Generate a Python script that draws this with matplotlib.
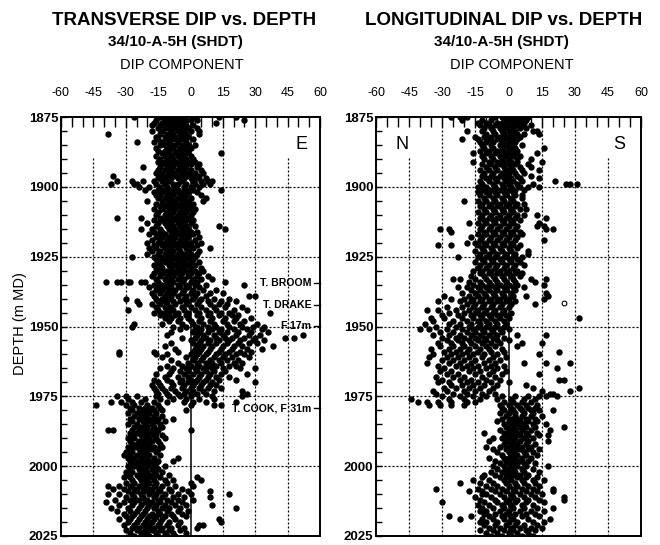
import matplotlib
matplotlib.use("Agg")
import matplotlib.pyplot as plt

plt.rcParams['font.family'] = ['Liberation Sans', 'DejaVu Sans']
plt.rcParams['axes.unicode_minus'] = False

# ---------------- data: transverse dip component (depth m MD -> dips) -------------
trans_upper = {
    1875: [-26, -14, -11, -9, -7, -5, -3, 1, 13, 21],
    1876: [-16, -12, -10, -8, -6, -4, -2, 0, 3, 25],
    1877: [-17, -13, -9, -7, -5, -3, 12],
    1878: [-18, -14, -11, -8, -6, -2, 1],
    1879: [-15, -12, -10, -7, -4, -1, 3],
    1880: [-18, -13, -9, -6, -3, 0, 4],
    1881: [-38, -14, -11, -8, -5, -2, 4],
    1882: [-16, -12, -9, -7, -4, -1],
    1883: [-15, -11, -8, -5, -3, 1],
    1884: [-25, -17, -13, -10, -6, -2],
    1885: [-14, -12, -9, -7, -4, -1, 2],
    1886: [-16, -11, -8, -5, -3, 0],
    1887: [-15, -12, -10, -6, -4, -1],
    1888: [-13, -10, -7, -5, -2, 14],
    1889: [-16, -12, -9, -6, -3, 0],
    1890: [-14, -11, -8, -5, -2, 1],
    1891: [-15, -12, -10, -7, -4, -1, 2],
    1892: [-13, -9, -6, -3, 0, 4],
    1893: [-22, -14, -11, -8, -5, -2, 3],
    1894: [-15, -12, -9, -6, -3, 0, 5],
    1895: [-16, -13, -10, -7, -4, -1, 2, 6],
    1896: [-36, -14, -11, -8, -5, -2, 1, 4],
    1897: [-15, -12, -9, -6, -3, 0, 3, 7],
    1898: [-34, -27, -22, -17, -13, -10, -4, 1, 5, 8, 10],
    1899: [-37, -26, -25, -16, -12, -8, -6, -2, 2, 6, 9],
    1900: [-24, -19, -14, -11, -7, -3, 0, 4],
    1901: [-21, -15, -12, -9, -6, -2, 1, 14],
    1902: [-17, -13, -10, -7, -4, -1, 3],
    1903: [-16, -14, -11, -8, -5, -2, 5],
    1904: [-15, -12, -9, -6, -3, 0, 7],
    1905: [-20, -13, -10, -7, -4, -1, 6],
    1906: [-16, -11, -8, -5, -2, 1],
    1907: [-14, -12, -9, -6, -3, 0],
    1908: [-17, -13, -10, -7, -4, -1, 2],
    1909: [-15, -11, -8, -5, -2, 1],
    1910: [-16, -12, -9, -6, -3, 0],
    1911: [-34, -23, -14, -10, -7, -4, -1],
    1912: [-17, -13, -11, -8, -5, -2, 1],
    1913: [-20, -15, -12, -9, -6, -3, 0],
    1914: [-16, -11, -8, -5, -2, 2, 13],
    1915: [-23, -18, -14, -10, -7, -4, -1, 16],
    1916: [-17, -13, -9, -6, -3, 0, 3],
    1917: [-19, -15, -12, -8, -5, -2, 1],
    1918: [-16, -13, -10, -7, -4, -1, 4],
    1919: [-18, -14, -11, -8, -5, -2, 2],
    1920: [-20, -15, -12, -9, -6, -3, 0, 5],
    1921: [-17, -13, -10, -7, -4, -1, 3],
    1922: [-19, -16, -12, -9, -6, -2, 1, 9],
    1923: [-18, -14, -11, -8, -5, -1, 4],
    1924: [-20, -15, -12, -9, -6, -3, 0, 3],
}
trans_middle = {
    1925: [-27, -17, -14, -10, -7, -4, -1, 2],
    1926: [-16, -13, -11, -8, -5, -2, 1],
    1927: [-15, -12, -9, -6, -3, 0, 4],
    1928: [-17, -14, -10, -7, -4, -1, 2],
    1929: [-16, -13, -9, -6, -3, 0, 5],
    1930: [-15, -11, -8, -5, -2, 2, 6],
    1931: [-17, -13, -10, -7, -4, 0, 4],
    1932: [-18, -14, -11, -8, -5, -1, 3, 8],
    1933: [-16, -12, -9, -6, -3, 1, 5, 10],
    1934: [-39, -34, -32, -29, -28, -23, -21, -15, -11, -8, -4, 0, 3, 16],
    1935: [-17, -13, -10, -6, -2, 2, 7, 25],
    1936: [-19, -15, -12, -9, -5, -1, 4],
    1937: [-16, -13, -10, -7, -3, 1, 6, 12],
    1938: [-18, -14, -11, -8, -4, 0, 3, 9, 15],
    1939: [-17, -12, -9, -6, -2, 2, 7, 27, 30],
    1940: [-30, -16, -13, -10, -3, 1, 5, 11, 18],
    1941: [-25, -15, -12, -8, -5, -1, 4, 8, 14, 21],
    1942: [-24, -18, -14, -11, -7, -2, 3, 9, 13, 17],
    1943: [-16, -12, -9, -4, 0, 5, 11, 16, 24],
    1944: [-29, -15, -11, -8, -3, 2, 7, 12, 20, 26],
    1945: [-17, -13, -10, -6, -1, 4, 9, 14, 18, 37],
    1946: [-14, -11, -7, -2, 3, 8, 13, 19, 22],
    1947: [-12, -9, -5, -1, 5, 10, 16, 21, 28],
    1948: [-10, -6, 0, 4, 9, 15, 20, 25],
    1949: [-26, -13, -4, 1, 6, 11, 17, 23, 31],
    1950: [-27, -8, -2, 3, 8, 12, 18, 24, 29, 34],
    1951: [-5, 2, 5, 10, 14, 20, 26, 33],
    1952: [-9, 1, 4, 8, 13, 17, 22, 28, 36],
    1953: [-11, 3, 6, 11, 15, 21, 27, 32, 52],
    1954: [-4, 2, 7, 12, 16, 19, 25, 30, 44, 48],
    1955: [0, 5, 9, 13, 18, 23, 29, 34],
    1956: [-9, 1, 4, 8, 12, 17, 22, 27, 31],
    1957: [-12, 3, 6, 10, 15, 20, 24, 38],
    1958: [-7, 2, 5, 9, 14, 19, 26, 33],
    1959: [-33, -17, -6, 1, 4, 8, 13, 18, 23, 28],
    1960: [-33, -16, -11, 0, 3, 7, 12, 16, 21, 25],
    1961: [-13, -2, 2, 6, 11, 15, 19, 27],
    1962: [-9, 1, 5, 9, 13, 17, 22],
    1963: [-6, -1, 3, 7, 10, 14, 20, 24],
    1964: [-11, -4, 0, 4, 8, 12, 18, 21],
    1965: [-14, -8, -2, 2, 6, 10, 15, 23, 30],
    1966: [-9, -5, -1, 3, 7, 11, 16],
    1967: [-16, -10, -3, 1, 5, 9, 14, 26],
    1968: [-12, -6, -1, 4, 8, 12, 18],
    1969: [-17, -11, -4, 0, 3, 7, 13, 21],
    1970: [-15, -9, -5, -1, 2, 6, 10, 30],
    1971: [-18, -14, -8, -3, 1, 5, 9, 12],
    1972: [-17, -13, -9, -4, 0, 4, 8, 14],
    1973: [-16, -12, -7, -2, 1, 6, 11, 24],
    1974: [-15, -11, -6, -3, 0, 3, 7, 26],
    1975: [-34, -30, -25, -16, -10, -5, 0, 10, 24],
    1976: [-29, -21, -14, -8, -2, 4, 11],
    1977: [-37, -32, -27, -23, -17, -11, -3, 1, 7, 21],
}
trans_lower = {
    1978: [-44, -30, -26, -20, -15, 0, 11, 14],
    1979: [-28, -24, -21, -18, -14],
    1980: [-27, -23, -20, -17, -13, -2],
    1981: [-29, -25, -22, -19, -16],
    1982: [-26, -23, -20, -17, -13],
    1983: [-28, -24, -21, -18, -15, -8],
    1984: [-27, -22, -19, -16, -12],
    1985: [-29, -25, -21, -18, -14],
    1986: [-26, -23, -20, -17, -13],
    1987: [-38, -36, -27, -24, -21, -18, -15, 0],
    1988: [-28, -25, -22, -19, -16],
    1989: [-27, -23, -20, -17, -13],
    1990: [-29, -26, -22, -19, -16, -12],
    1991: [-28, -24, -21, -18, -15],
    1992: [-27, -25, -22, -19, -14],
    1993: [-29, -26, -23, -20, -17, -13],
    1994: [-28, -24, -21, -18, -15],
    1995: [-30, -27, -23, -20, -16],
    1996: [-31, -28, -25, -22, -19, -14],
    1997: [-29, -26, -23, -20, -17, -6],
    1998: [-28, -24, -21, -18, -15, -8],
    1999: [-27, -25, -22, -19, -16],
    2000: [-29, -26, -23, -20, -17, -12],
    2001: [-28, -24, -21, -18, -15],
    2002: [-30, -27, -23, -20, -17, -13],
    2003: [-29, -25, -22, -19, -16, -10],
    2004: [-31, -28, -24, -21, -18, -14, 3],
    2005: [-27, -23, -20, -17, -12, -8, 5],
    2006: [-30, -26, -22, -19, -16, -11, 0],
    2007: [-38, -33, -28, -24, -21, -17, -13, -7, 1],
    2008: [-36, -31, -26, -22, -19, -15, -10, -4],
    2009: [-29, -25, -21, -18, -14, -9, -1, 9],
    2010: [-38, -33, -27, -23, -19, -16, -12, -6, 0, 18],
    2011: [-30, -26, -22, -17, -13, -8, -3, 9],
    2012: [-35, -28, -24, -20, -15, -11, -6, 1],
    2013: [-39, -31, -26, -21, -18, -14, -9, -4],
    2014: [-33, -27, -23, -19, -16, -12, -7, -2, 10],
    2015: [-37, -29, -24, -20, -17, -13, -10, -5, 21],
    2016: [-34, -28, -25, -21, -15, -11, -6, -1],
    2017: [-31, -26, -22, -18, -14, -9, -4],
    2018: [-30, -27, -23, -19, -16, -12, -8, -2],
    2019: [-33, -28, -24, -20, -17, -13, -7, 13],
    2020: [-29, -25, -21, -18, -14, -10, -5, 14],
    2021: [-31, -26, -22, -19, -15, -11, -6, 4, 6],
    2022: [-27, -24, -20, -17, -13, -9, -3, 3],
    2023: [-30, -25, -21, -18, -14, -10, -5],
    2024: [-28, -23, -20, -16, -12, -8, -2],
    2025: [-26, -22, -19, -15, -11, -7],
}

# ---------------- data: longitudinal dip component ----------------
long_upper = {
    1875: [-26, -22, -19, -6, -3, -1, 1, 3, 5, 7, 9],
    1876: [-21, -12, -8, -2, 0, 2, 4, 6, 8],
    1877: [-14, -10, -5, -3, 0, 3, 5, 7],
    1878: [-13, -9, -6, -2, 1, 4, 6, 10],
    1879: [-11, -8, -4, -1, 2, 5, 8],
    1880: [-19, -12, -7, -3, 0, 3, 11, 13],
    1881: [-10, -6, -2, 1, 4, 7, 14],
    1882: [-15, -11, -8, -4, -1, 2, 5],
    1883: [-21, -14, -9, -5, -2, 1, 4],
    1884: [-13, -10, -7, -3, 0, 3],
    1885: [-12, -8, -4, -1, 2, 6],
    1886: [-11, -7, -3, 0, 3, 16],
    1887: [-13, -9, -5, -2, 1, 4],
    1888: [-16, -10, -6, -3, 0, 3, 13],
    1889: [-12, -8, -4, -1, 2, 5],
    1890: [-11, -7, -3, 0, 4, 10],
    1891: [-16, -9, -5, -2, 1, 4, 15],
    1892: [-12, -8, -4, 0, 3, 9],
    1893: [-10, -6, -2, 1, 5, 10],
    1894: [-13, -9, -5, -1, 2, 6, 14],
    1895: [-11, -7, -3, 0, 3, 7],
    1896: [-12, -8, -4, -1, 4, 10],
    1897: [-10, -6, -2, 1, 5, 14],
    1898: [-13, -9, -5, -1, 2, 6, 21],
    1899: [-12, -7, -3, 0, 4, 11, 26, 28, 31],
    1900: [-14, -10, -6, -2, 1, 5, 9, 14],
    1901: [-12, -8, -4, 0, 3, 7],
    1902: [-14, -10, -6, -2, 2],
    1903: [-13, -9, -5, -1, 3, 6],
    1904: [-11, -7, -3, 1, 6],
    1905: [-20, -14, -10, -6, -2, 2],
    1906: [-12, -8, -4, 0, 4, 7],
    1907: [-13, -9, -5, -1, 3],
    1908: [-11, -7, -3, 1, 5, 8],
    1909: [-14, -10, -6, -2, 2],
    1910: [-12, -8, -4, 0, 4, 7, 13],
    1911: [-13, -9, -5, -1, 3, 17],
    1912: [-11, -7, -3, 1, 5],
    1913: [-18, -14, -10, -6, -2, 2, 14],
    1914: [-12, -8, -4, 0, 4, 13, 16],
    1915: [-31, -27, -13, -9, -5, -1, 3, 17, 20],
    1916: [-26, -11, -7, -3, 1, 5],
    1917: [-14, -10, -6, -2, 2, 6],
    1918: [-17, -12, -8, -4, 0, 4],
    1919: [-13, -9, -5, -1, 3, 16],
    1920: [-19, -15, -11, -7, -3, 1],
    1921: [-32, -26, -14, -10, -6, -2, 2, 5],
    1922: [-12, -8, -4, 0, 4],
    1923: [-15, -11, -7, -3, 1, 9],
    1924: [-13, -9, -5, -1, 3, 9],
}
long_middle = {
    1925: [-23, -14, -10, -6, -2, 2, 6],
    1926: [-12, -8, -4, 0, 4],
    1927: [-15, -11, -7, -3, 1, 5],
    1928: [-13, -9, -5, -1, 3, 7],
    1929: [-14, -10, -6, -2, 2],
    1930: [-16, -12, -8, -4, 0, 4],
    1931: [-13, -9, -5, -1, 3, 6],
    1932: [-17, -11, -7, -3, 1, 5],
    1933: [-25, -22, -15, -10, -6, -2, 2, 10, 17],
    1934: [-18, -13, -9, -5, -1, 3, 12],
    1935: [-16, -12, -8, -4, 0, 4, 16],
    1936: [-23, -19, -14, -10, -6, -2, 2, 7],
    1937: [-17, -13, -9, -5, -1, 3],
    1938: [-21, -15, -11, -7, -3, 1, 17],
    1939: [-29, -18, -14, -10, -6, -2, 2, 8, 18],
    1940: [-26, -20, -16, -12, -8, -4, 0, 16],
    1941: [-32, -22, -17, -13, -9, -5, -1, 3],
    1942: [-19, -15, -11, -7, -3, 1, 12],
    1943: [-28, -21, -16, -12, -8, -4, 0],
    1944: [-37, -32, -24, -18, -14, -10, -6, -2],
    1945: [-27, -20, -15, -11, -7, -3, 1],
    1946: [-30, -23, -17, -13, -9, -5, -1],
    1947: [-35, -29, -21, -16, -12, -8, -4, 0, 32],
    1948: [-34, -25, -19, -14, -10, -6, -2],
    1949: [-38, -27, -22, -17, -13, -9, -5, -1],
    1950: [-33, -24, -18, -14, -10, -6, -2],
    1951: [-40, -36, -28, -21, -16, -12, -8, -4, 0],
    1952: [-31, -25, -19, -15, -11, -7, -3],
    1953: [-34, -27, -22, -17, -13, -9, -5, 4, 17],
    1954: [-30, -24, -20, -15, -11, -7, -2],
    1955: [-28, -23, -18, -14, -10, -5, 0],
    1956: [-32, -26, -21, -17, -12, -8, -4, 6, 15],
    1957: [-31, -25, -20, -15, -10, -6, 4],
    1958: [-35, -27, -22, -18, -13, -9, -3],
    1959: [-29, -24, -19, -14, -8, -2, 23],
    1960: [-34, -26, -21, -16, -11, -5, 14],
    1961: [-36, -28, -23, -18, -12, -7, -1],
    1962: [-30, -25, -20, -15, -9, -4],
    1963: [-37, -27, -22, -17, -11, -6, 7, 17, 28],
    1964: [-32, -24, -19, -14, -8, -2],
    1965: [-29, -21, -16, -10, -5, 22],
    1966: [-31, -26, -18, -13, -7, -1],
    1967: [-28, -23, -15, -9, -3, 14],
    1968: [-33, -25, -20, -12, -6],
    1969: [-30, -22, -17, -10, -4, 23, 25],
    1970: [-32, -27, -19, -14, -8, 0],
    1971: [-26, -21, -16, -11, -5, 8],
    1972: [-29, -24, -18, -13, -7, 11, 32],
    1973: [-34, -28, -20, -15, -9, 15, 28],
    1974: [-33, -25, -19, -12, -6, 19, 20],
    1975: [-30, -22, -16, -10, -3, 3, 9, 14, 17, 22],
    1976: [-44, -27, -20, -13, -5, 1, 7, 12],
    1977: [-41, -37, -32, -26, -19, -15, -2, 2, 6, 10],
}
long_lower = {
    1978: [-36, -31, -26, -20, -4, 0, 4, 8, 13],
    1979: [-3, 1, 5, 9, 12],
    1980: [-2, 2, 6, 10, 14, 20],
    1981: [-4, 0, 3, 7, 11],
    1982: [-1, 3, 6, 10, 15],
    1983: [-3, 1, 4, 8, 12],
    1984: [-5, 0, 2, 5, 9, 13],
    1985: [-2, 1, 4, 7, 11, 17],
    1986: [-1, 2, 5, 8, 12, 25],
    1987: [-4, 0, 3, 6, 10, 19],
    1988: [-11, -2, 1, 4, 8, 13],
    1989: [-1, 2, 5, 9, 14, 18],
    1990: [-7, -3, 0, 3, 7, 11],
    1991: [-9, -1, 2, 5, 9, 18],
    1992: [-2, 1, 4, 8, 12],
    1993: [-10, -4, 0, 3, 6, 10],
    1994: [-7, -1, 2, 5, 9, 14],
    1995: [-5, 0, 3, 7, 11],
    1996: [-3, 1, 4, 8, 13],
    1997: [-9, -2, 0, 3, 6, 10],
    1998: [-6, -1, 2, 5, 9],
    1999: [-4, 0, 3, 7, 12],
    2000: [-7, -2, 1, 4, 8, 18],
    2001: [-5, -1, 2, 6, 11],
    2002: [-8, -3, 0, 3, 7, 14],
    2003: [-11, -6, -1, 2, 5, 9],
    2004: [-12, -4, 0, 4, 8, 13],
    2005: [-16, -9, -2, 1, 6, 11, 16],
    2006: [-22, -13, -7, -1, 3, 7, 12],
    2007: [-10, -5, 0, 4, 9, 14],
    2008: [-33, -14, -8, -3, 2, 6, 11, 20],
    2009: [-18, -12, -6, -1, 3, 8, 13, 20],
    2010: [-12, -10, -4, 1, 5, 10, 15],
    2011: [-15, -8, -2, 2, 7, 12, 25],
    2012: [-13, -6, 0, 4, 9, 14, 25],
    2013: [-30, -11, -5, -1, 3, 8, 16],
    2014: [-14, -9, -3, 1, 6, 11],
    2015: [-12, -7, -2, 2, 7, 13, 20],
    2016: [-13, -10, -4, 0, 5, 10, 16],
    2017: [-11, -6, -1, 3, 8, 12],
    2018: [-27, -17, -9, -3, 1, 6, 14],
    2019: [-22, -12, -7, -2, 2, 9, 19],
    2020: [-13, -10, -5, 0, 4, 11, 16],
    2021: [-11, -6, -1, 3, 7, 13],
    2022: [-9, -4, 1, 5, 10, 15],
    2023: [-13, -7, -2, 2, 8, 12],
    2024: [-10, -5, 0, 4, 9],
    2025: [-8, -3, 1, 6, 11],
}
long_open_depth = [1941.5]
long_open_dip = [25]

# ---------------- labels ----------------
titles = ["TRANSVERSE DIP vs. DEPTH", "LONGITUDINAL DIP vs. DEPTH"]
subtitle = "34/10-A-5H (SHDT)"
xlabel = "DIP COMPONENT"
ylabel = "DEPTH (m MD)"
x_ticks = [-60, -45, -30, -15, 0, 15, 30, 45, 60]
y_ticks = [1875, 1900, 1925, 1950, 1975, 2000, 2025]
marker_names = ["T. BROOM", "T. DRAKE", "F:17m", "T. COOK, F:31m"]
marker_depths = [1934.5, 1942.2, 1949.8, 1979.2]


def flatten(*blocks):
    xs, ys = [], []
    for b in blocks:
        for d, vals in b.items():
            for v in vals:
                xs.append(v)
                ys.append(d)
    return xs, ys


W, H = 660, 545
fig = plt.figure(figsize=(W / 100, H / 100), dpi=100)
ax1 = fig.add_axes([61 / W, 1 - 536 / H, 259 / W, 419 / H])
ax2 = fig.add_axes([376 / W, 1 - 536 / H, 265 / W, 419 / H])

dot = (0, (1.6, 1.6))


def style(ax):
    ax.set_xlim(-60, 60)
    ax.set_ylim(2025, 1875)
    ax.xaxis.tick_top()
    ax.set_xticks(x_ticks)
    ax.set_xticks(range(-60, 61, 5), minor=True)
    ax.set_yticks(y_ticks)
    ax.set_yticks(range(1875, 2026, 5), minor=True)
    ax.tick_params(axis='x', which='both', direction='in', length=7, width=1,
                   top=True, bottom=False, labeltop=True, labelbottom=False,
                   labelsize=9, pad=13)
    ax.tick_params(axis='y', which='both', direction='in', length=4, width=1,
                   left=True, right=False, labelsize=9.5, pad=2)
    for lab in ax.get_yticklabels():
        lab.set_fontweight('bold')
    for s in ax.spines.values():
        s.set_linewidth(1.4)
    for gx in [-30, -15, 15, 30]:
        ax.axvline(gx, color='k', lw=0.9, ls=dot, zorder=1)
    for gx in [-45, 45]:
        ax.vlines(gx, 1889.5, 2025, color='k', lw=0.9, ls=dot, zorder=1)
    for gy in [1900, 1925, 1950, 1975, 2000]:
        ax.axhline(gy, color='k', lw=0.9, ls=dot, zorder=1)
    ax.axvline(0, color='k', lw=1.1, zorder=1)


style(ax1)
style(ax2)

tx, ty = flatten(trans_upper, trans_middle, trans_lower)
ax1.plot(tx, ty, 'o', ms=4.6, mfc='k', mec='k', mew=0, zorder=2, clip_on=True)
lx, ly = flatten(long_upper, long_middle, long_lower)
ax2.plot(lx, ly, 'o', ms=4.6, mfc='k', mec='k', mew=0, zorder=2, clip_on=True)
ax2.plot(long_open_dip, long_open_depth, 'o', ms=3.4, mfc='white', mec='k',
         mew=0.8, zorder=3)

# direction letters
ax1.text(51.5, 1885, "E", fontsize=13, ha='center', va='center', zorder=4)
ax2.text(-48, 1884.7, "N", fontsize=13, ha='center', va='center', zorder=4)
ax2.text(50, 1884.7, "S", fontsize=13, ha='center', va='center', zorder=4)

# formation markers
for name, d in zip(marker_names, marker_depths):
    ax1.text(56, d, name, fontsize=7.6, fontweight='bold', ha='right',
             va='center', zorder=4)
    ax1.plot([57, 60], [d, d], color='k', lw=1.0, zorder=4, clip_on=False)

# titles
for cx, title, scx, dcx in [(184, titles[0], 175, 182), (504, titles[1], 501, 512)]:
    fig.text(cx / W, 1 - 25 / H, title, fontsize=13.5, fontweight='bold',
             ha='center', va='baseline')
    fig.text(scx / W, 1 - 46 / H, subtitle, fontsize=11, fontweight='bold',
             ha='center', va='baseline')
    fig.text(dcx / W, 1 - 69 / H, xlabel, fontsize=10.5, ha='center',
             va='baseline')

fig.text(20 / W, 1 - 324 / H, ylabel, fontsize=10.5, rotation=90,
         ha='center', va='center')

fig.savefig("out.png", dpi=100)
